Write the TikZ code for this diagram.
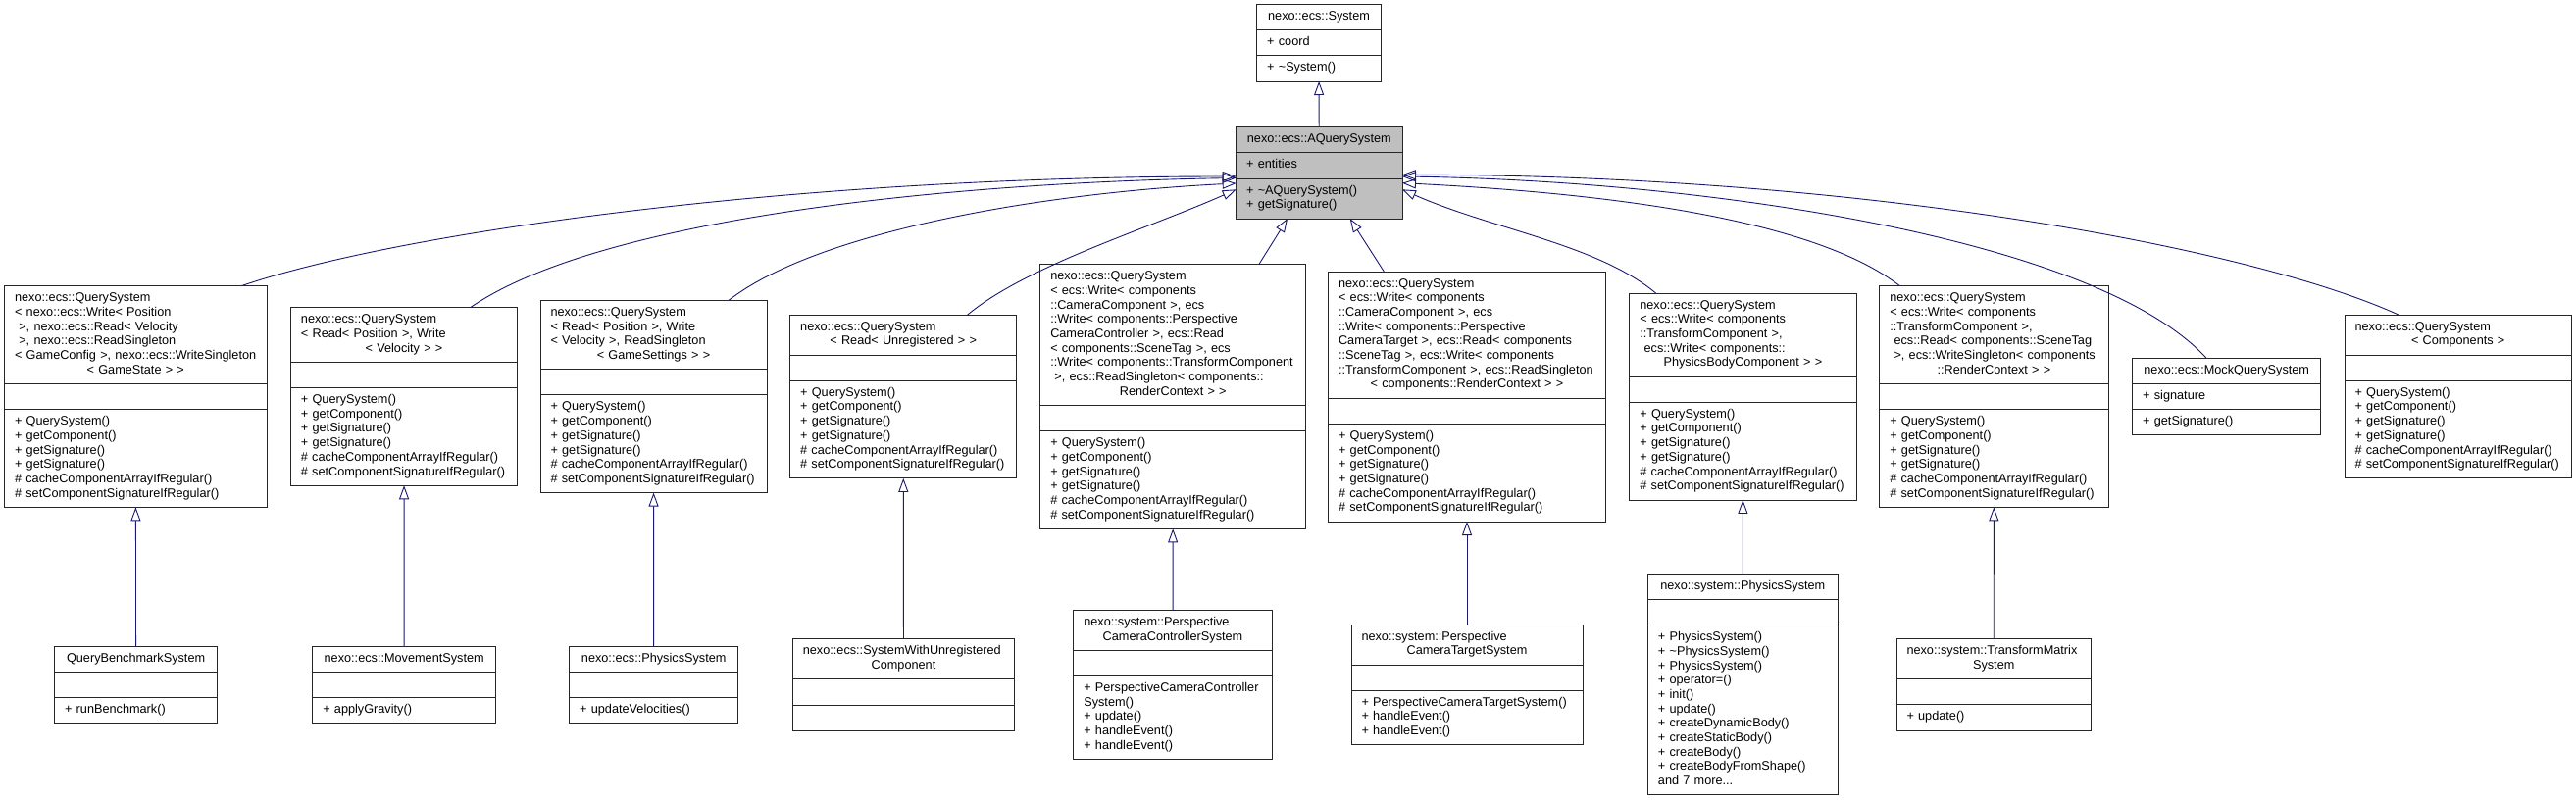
\documentclass[tikz,border=0pt]{standalone}
\usepackage{fontspec}
\setmainfont{Liberation Sans}
\usepackage{tikz}
\usetikzlibrary{positioning}
\usetikzlibrary{shapes.multipart}
\usetikzlibrary{arrows.meta}
\usepackage{xcolor}
\definecolor{edgeblue}{HTML}{191970}
\definecolor{basefill}{HTML}{BFBFBF}
\newcommand\mline[1]{\strut\mbox{#1}\par}
\newcommand\mlast[1]{\strut\hfill\mbox{#1}\hfill\strut\par}
\newcommand\qsops{\mline{+ QuerySystem()}\mline{+ getComponent()}\mline{+ getSignature()}\mline{+ getSignature()}%
  \mline{\# cacheComponentArrayIfRegular()}\mline{\# setComponentSignatureIfRegular()}}

\begin{document}
\begin{tikzpicture}[x=1pt, y=1pt,
    cls/.style={draw=black!85, line width=0.9pt, fill=white, rectangle split, rectangle split parts=3,
      inner xsep=10.5pt, inner ysep=5.3pt, outer sep=0pt, align=left, anchor=center,
      font=\fontsize{12.7}{14.7}\selectfont},
    inh/.style={draw=edgeblue, line width=0.9pt, -{Triangle[open, length=14pt, width=10pt]}}]
    \path[use as bounding box, fill=white] (0,0) rectangle (2627,-816);

    \node[cls, text width=105.6pt] (sys) at (1345,-43.7)
      {\mlast{nexo::ecs::System}\nodepart{two}\mline{+ coord}\nodepart{three}\mline{+ \textasciitilde System()}};
    \node[cls, fill=basefill, text width=148.3pt] (aqs) at (1345.3,-176.3)
      {\mlast{nexo::ecs::AQuerySystem}\nodepart{two}\mline{+ entities}\nodepart{three}\mline{+ \textasciitilde AQuerySystem()}\mline{+ getSignature()}};

    \node[cls, text width=246.4pt] (qs1) at (138.3,-404.5)
      {\mline{nexo::ecs::QuerySystem}\mline{< nexo::ecs::Write< Position}\mline{\ >, nexo::ecs::Read< Velocity}%
       \mline{\ >, nexo::ecs::ReadSingleton}\mline{< GameConfig >, nexo::ecs::WriteSingleton}\mlast{< GameState > >}%
       \nodepart{two}\mline{}\nodepart{three}\qsops};
    \node[cls, text width=210.1pt] (qs2) at (412,-404.5)
      {\mline{nexo::ecs::QuerySystem}\mline{< Read< Position >, Write}\mlast{< Velocity > >}%
       \nodepart{two}\mline{}\nodepart{three}\qsops};
    \node[cls, text width=210pt] (qs3) at (666.5,-404.5)
      {\mline{nexo::ecs::QuerySystem}\mline{< Read< Position >, Write}\mline{< Velocity >, ReadSingleton}\mlast{< GameSettings > >}%
       \nodepart{two}\mline{}\nodepart{three}\qsops};
    \node[cls, text width=210pt] (qs4) at (921.2,-404.5)
      {\mline{nexo::ecs::QuerySystem}\mlast{< Read< Unregistered > >}%
       \nodepart{two}\mline{}\nodepart{three}\qsops};
    \node[cls, text width=250.1pt] (qs5) at (1196.3,-404.5)
      {\mline{nexo::ecs::QuerySystem}\mline{< ecs::Write< components}\mline{::CameraComponent >, ecs}%
       \mline{::Write< components::Perspective}\mline{CameraController >, ecs::Read}\mline{< components::SceneTag >, ecs}%
       \mline{::Write< components::TransformComponent}\mline{\ >, ecs::ReadSingleton< components::}\mlast{RenderContext > >}%
       \nodepart{two}\mline{}\nodepart{three}\qsops};
    \node[cls, text width=261.9pt] (qs6) at (1496,-404.5)
      {\mline{nexo::ecs::QuerySystem}\mline{< ecs::Write< components}\mline{::CameraComponent >, ecs}%
       \mline{::Write< components::Perspective}\mline{CameraTarget >, ecs::Read< components}\mline{::SceneTag >, ecs::Write< components}%
       \mline{::TransformComponent >, ecs::ReadSingleton}\mlast{< components::RenderContext > >}%
       \nodepart{two}\mline{}\nodepart{three}\qsops};
    \node[cls, text width=210.1pt] (qs7) at (1777.4,-404.5)
      {\mline{nexo::ecs::QuerySystem}\mline{< ecs::Write< components}\mline{::TransformComponent >,}%
       \mline{\ ecs::Write< components::}\mlast{PhysicsBodyComponent > >}%
       \nodepart{two}\mline{}\nodepart{three}\qsops};
    \node[cls, text width=212.2pt] (qs8) at (2033.4,-404.5)
      {\mline{nexo::ecs::QuerySystem}\mline{< ecs::Write< components}\mline{::TransformComponent >,}%
       \mline{\ ecs::Read< components::SceneTag}\mline{\ >, ecs::WriteSingleton< components}\mlast{::RenderContext > >}%
       \nodepart{two}\mline{}\nodepart{three}\qsops};
    \node[cls, text width=171pt] (mock) at (2270.7,-404.5)
      {\mlast{nexo::ecs::MockQuerySystem}\nodepart{two}\mline{+ signature}\nodepart{three}\mline{+ getSignature()}};
    \node[cls, text width=210.3pt] (qsc) at (2506.7,-404.5)
      {\mline{nexo::ecs::QuerySystem}\mlast{< Components >}%
       \nodepart{two}\mline{}\nodepart{three}\qsops};

    \node[cls, text width=145pt] (bench) at (138.6,-698.5)
      {\mlast{QueryBenchmarkSystem}\nodepart{two}\mline{}\nodepart{three}\mline{+ runBenchmark()}};
    \node[cls, text width=165.8pt] (move) at (412.2,-698.5)
      {\mlast{nexo::ecs::MovementSystem}\nodepart{two}\mline{}\nodepart{three}\mline{+ applyGravity()}};
    \node[cls, text width=151pt] (ephys) at (666.7,-698.5)
      {\mlast{nexo::ecs::PhysicsSystem}\nodepart{two}\mline{}\nodepart{three}\mline{+ updateVelocities()}};
    \node[cls, text width=205.3pt] (unreg) at (921.5,-698.5)
      {\mline{nexo::ecs::SystemWithUnregistered}\mlast{Component}\nodepart{two}\mline{}\nodepart{three}\mline{}};
    \node[cls, text width=181.4pt] (camctrl) at (1196,-698.5)
      {\mline{nexo::system::Perspective}\mlast{CameraControllerSystem}\nodepart{two}\mline{}%
       \nodepart{three}\mline{+ PerspectiveCameraController}\mline{System()}\mline{+ update()}\mline{+ handleEvent()}\mline{+ handleEvent()}};
    \node[cls, text width=215pt] (camtgt) at (1496,-698.5)
      {\mline{nexo::system::Perspective}\mlast{CameraTargetSystem}\nodepart{two}\mline{}%
       \nodepart{three}\mline{+ PerspectiveCameraTargetSystem()}\mline{+ handleEvent()}\mline{+ handleEvent()}};
    \node[cls, text width=172.7pt] (physsys) at (1777.3,-698)
      {\mlast{nexo::system::PhysicsSystem}\nodepart{two}\mline{}%
       \nodepart{three}\mline{+ PhysicsSystem()}\mline{+ \textasciitilde PhysicsSystem()}\mline{+ PhysicsSystem()}\mline{+ operator=()}%
       \mline{+ init()}\mline{+ update()}\mline{+ createDynamicBody()}\mline{+ createStaticBody()}\mline{+ createBody()}%
       \mline{+ createBodyFromShape()}\mline{and 7 more...}};
    \node[cls, text width=177.4pt] (tmsys) at (2033.2,-698.3)
      {\mline{nexo::system::TransformMatrix}\mlast{System}\nodepart{two}\mline{}\nodepart{three}\mline{+ update()}};

    \foreach \c/\p in {aqs/sys, bench/qs1, move/qs2, ephys/qs3, unreg/qs4, camctrl/qs5, camtgt/qs6, physsys/qs7, tmsys/qs8}
      \draw[inh] (\c) -- (\p);

    \draw[inh] ([xshift=-26pt]qs1.north east) .. controls +(154,53) and +(-460,0) .. ([yshift=-3.7pt]aqs.west);
    \draw[inh] ([xshift=-48pt]qs2.north east) .. controls +(130,90) and +(-300,-5) .. ([yshift=-5.2pt]aqs.west);
    \draw[inh] ([xshift=-39pt]qs3.north east) .. controls +(90,70) and +(-200,-10) .. ([yshift=-10.7pt]aqs.west);
    \draw[inh] ([xshift=-50pt]qs4.north east) .. controls +(60,50) and +(-90,-40) .. ([yshift=-17pt]aqs.west);
    \draw[inh] ([xshift=-48pt]qs5.north east) -- ([xshift=-32.3pt]aqs.south);
    \draw[inh] ([xshift=56.8pt]qs6.north west) -- ([xshift=31.4pt]aqs.south);
    \draw[inh] ([xshift=26.8pt]qs7.north west) .. controls +(-60,50) and +(90,-40) .. ([yshift=-17pt]aqs.east);
    \draw[inh] ([xshift=20.7pt]qs8.north west) .. controls +(-90,70) and +(200,-10) .. ([yshift=-10.4pt]aqs.east);
    \draw[inh] ([xshift=75.3pt]mock.north west) .. controls +(-110,120) and +(320,-5) .. ([yshift=-3.7pt]aqs.east);
    \draw[inh] ([xshift=55pt]qsc.north west) .. controls +(-154,70) and +(460,0) .. ([yshift=-2pt]aqs.east);
\end{tikzpicture}
\end{document}
